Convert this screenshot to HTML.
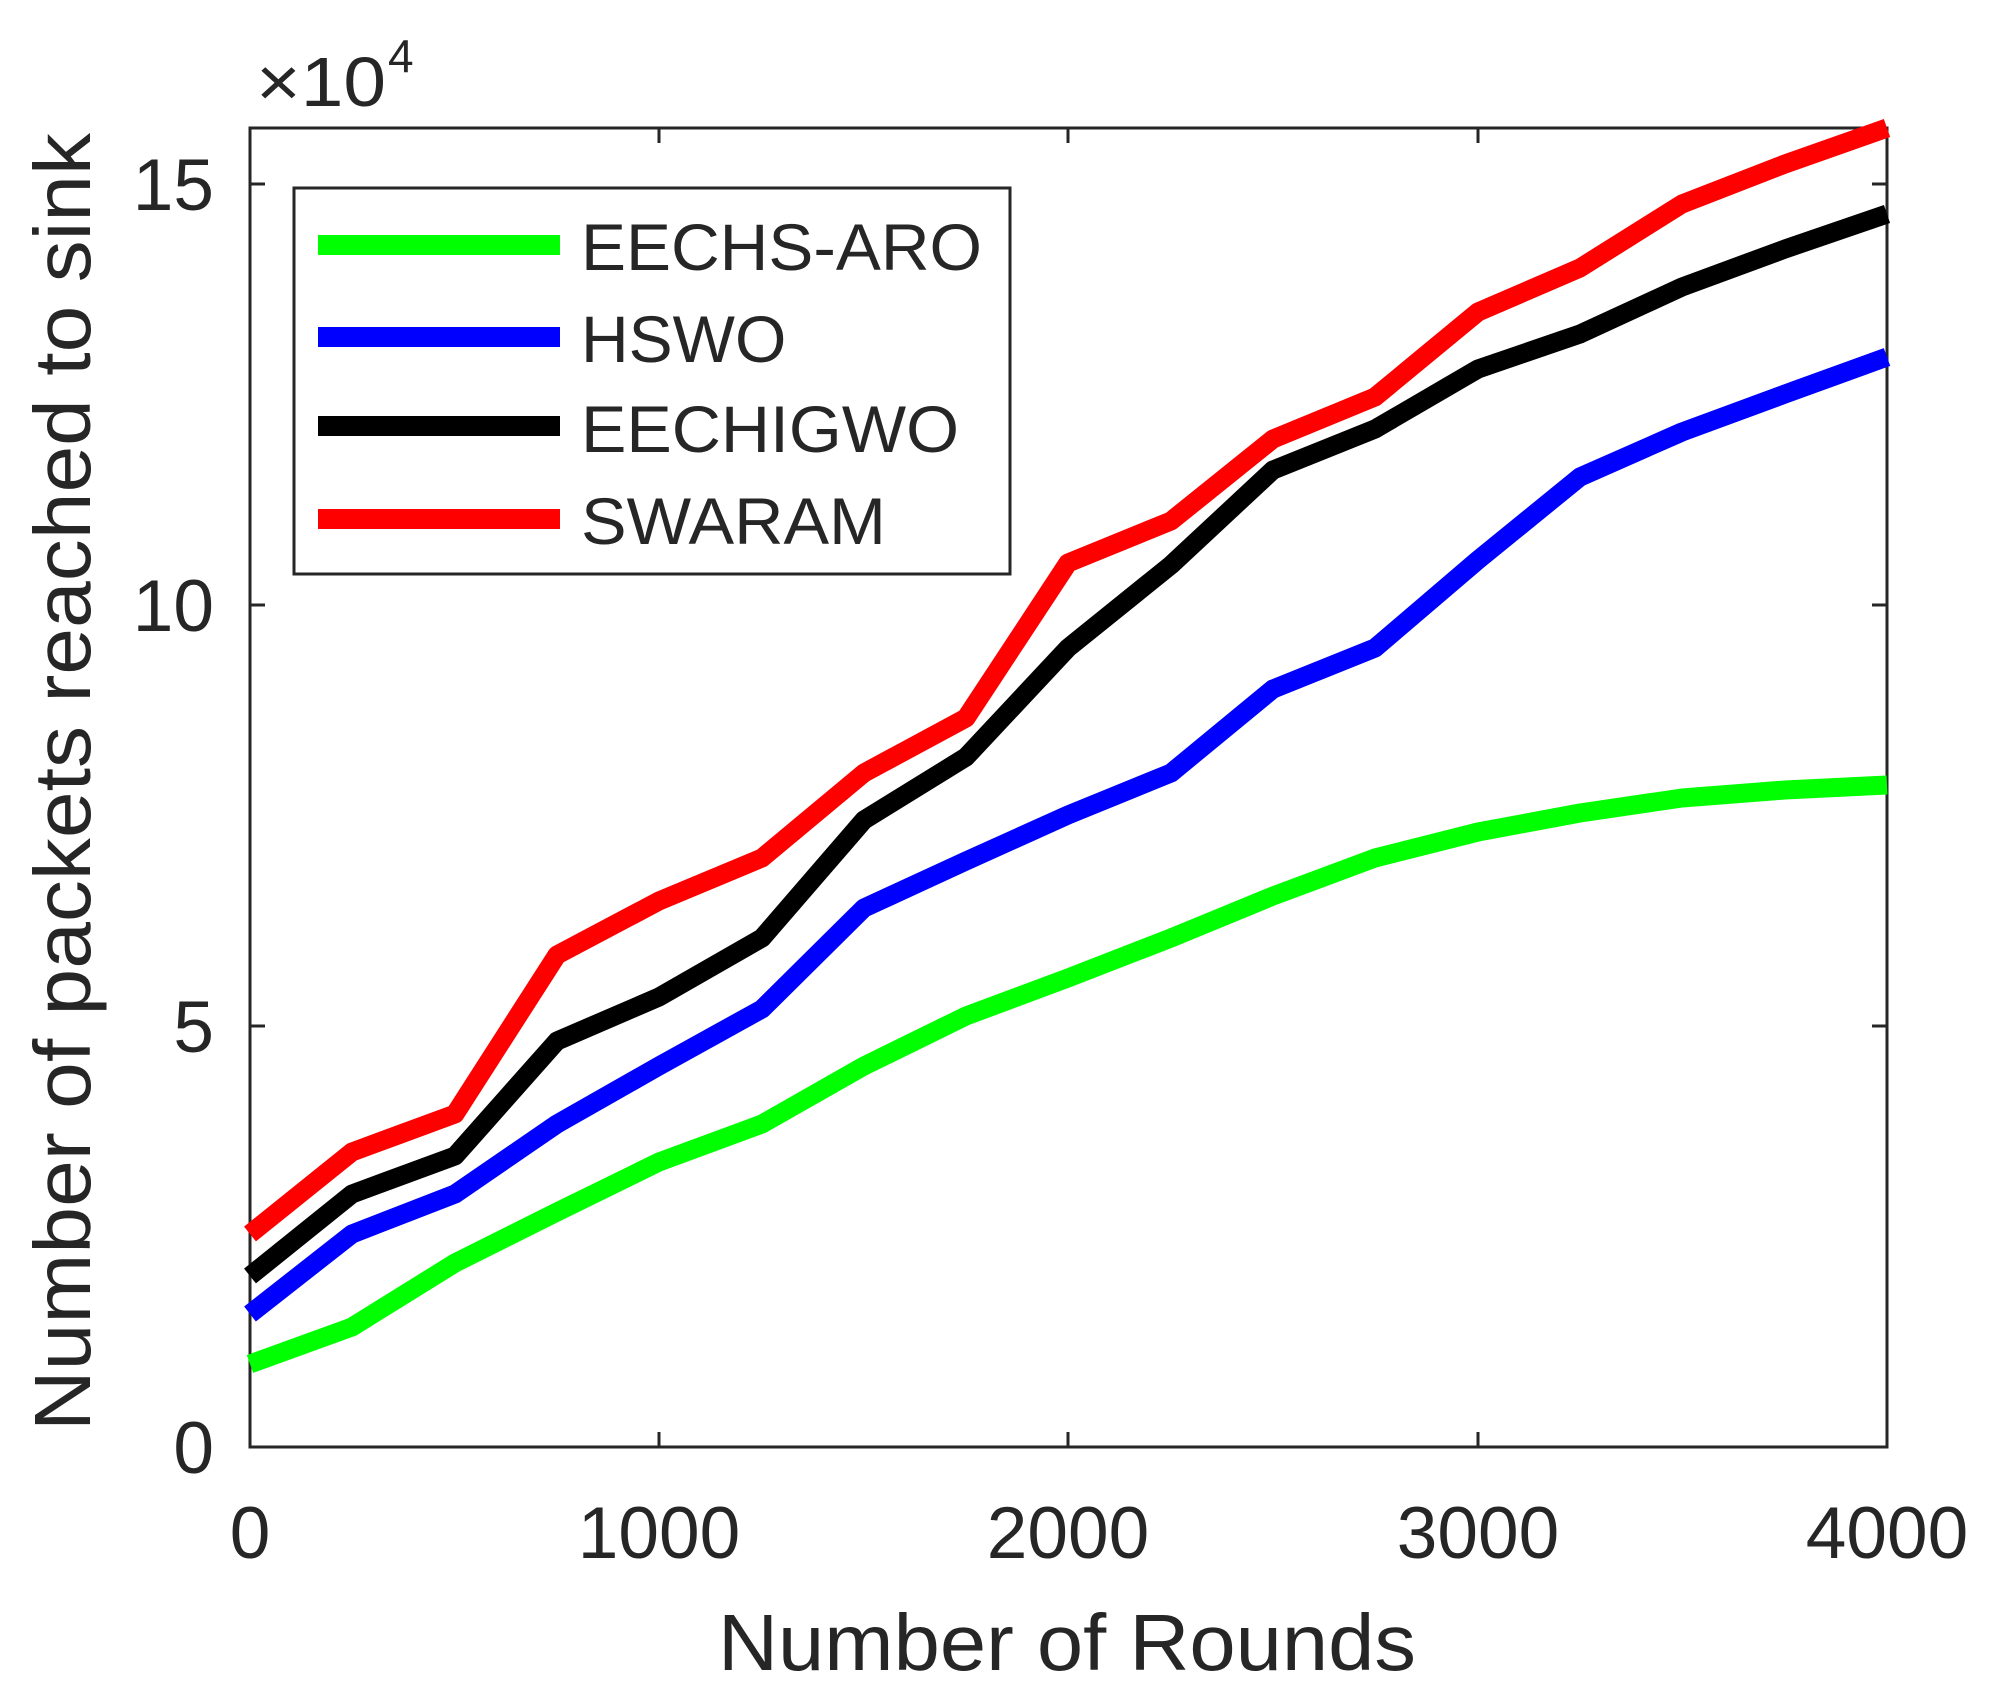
<!DOCTYPE html>
<html><head><meta charset="utf-8"><style>
html,body{margin:0;padding:0;background:#fff;}
svg{display:block;}
text{font-family:"Liberation Sans",Arial,sans-serif;fill:#262626;}
</style></head><body>
<svg width="1990" height="1700" viewBox="0 0 1990 1700" xmlns="http://www.w3.org/2000/svg">
<rect width="1990" height="1700" fill="#fff"/>
<rect x="250" y="128" width="1637" height="1319" fill="none" stroke="#262626" stroke-width="3"/>
<g stroke="#262626" stroke-width="3">
<line x1="659" y1="1447" x2="659" y2="1432"/><line x1="1068" y1="1447" x2="1068" y2="1432"/><line x1="1478" y1="1447" x2="1478" y2="1432"/>
<line x1="659" y1="128" x2="659" y2="143"/><line x1="1068" y1="128" x2="1068" y2="143"/><line x1="1478" y1="128" x2="1478" y2="143"/>
<line x1="250" y1="1026" x2="265" y2="1026"/><line x1="250" y1="605" x2="265" y2="605"/><line x1="250" y1="184" x2="265" y2="184"/>
<line x1="1887" y1="1026" x2="1872" y2="1026"/><line x1="1887" y1="605" x2="1872" y2="605"/><line x1="1887" y1="184" x2="1872" y2="184"/>
</g>
<g font-size="73" text-anchor="middle">
<text x="250" y="1558">0</text><text x="659" y="1558">1000</text><text x="1068" y="1558">2000</text><text x="1478" y="1558">3000</text><text x="1887" y="1558">4000</text>
</g>
<g font-size="73" text-anchor="end">
<text x="214" y="1473">0</text><text x="214" y="1052">5</text><text x="214" y="631">10</text><text x="214" y="210">15</text>
</g>
<text x="256" y="106" font-size="70" textLength="130" lengthAdjust="spacingAndGlyphs">×10</text><text x="388" y="72" font-size="46">4</text>
<text x="718" y="1670" font-size="80" textLength="698" lengthAdjust="spacingAndGlyphs">Number of Rounds</text>
<text transform="translate(90,782) rotate(-90)" text-anchor="middle" font-size="80" textLength="1298" lengthAdjust="spacingAndGlyphs">Number of packets reached to sink</text>
<g fill="none" stroke-width="19" stroke-linejoin="round" stroke-linecap="butt">
<polyline stroke="#00ff00" points="250,1364 352,1327 455,1263 557,1212 659,1162 762,1124 864,1066 966,1016 1068,978 1171,938 1273,896 1375,858 1478,832 1580,813 1682,798 1785,790 1887,785"/>
<polyline stroke="#0000ff" points="250,1314 352,1234 455,1194 557,1124 659,1066 762,1009 864,908 966,861 1068,815 1171,773 1273,689 1375,648 1478,560 1580,477 1682,432 1785,394 1887,357"/>
<polyline stroke="#000000" points="250,1276 352,1194 455,1156 557,1041 659,997 762,938 864,820 966,757 1068,648 1171,565 1273,470 1375,429 1478,369 1580,334 1682,287 1785,249 1887,214"/>
<polyline stroke="#ff0000" points="250,1234 352,1152 455,1114 557,955 659,901 762,858 864,773 966,718 1068,563 1171,521 1273,439 1375,397 1478,312 1580,268 1682,204 1785,164 1887,128"/>
</g>
<rect x="294" y="188" width="716" height="386" fill="#fff" stroke="#262626" stroke-width="3"/>
<g stroke-width="20">
<line x1="318" y1="245" x2="560" y2="245" stroke="#00ff00"/>
<line x1="318" y1="337" x2="560" y2="337" stroke="#0000ff"/>
<line x1="318" y1="426" x2="560" y2="426" stroke="#000000"/>
<line x1="318" y1="519" x2="560" y2="519" stroke="#ff0000"/>
</g>
<g font-size="66" fill="#000">
<text x="581" y="270" textLength="401" lengthAdjust="spacingAndGlyphs">EECHS-ARO</text>
<text x="581" y="362">HSWO</text>
<text x="581" y="452" textLength="378" lengthAdjust="spacingAndGlyphs">EECHIGWO</text>
<text x="581" y="544" textLength="305" lengthAdjust="spacingAndGlyphs">SWARAM</text>
</g>
</svg>
</body></html>
